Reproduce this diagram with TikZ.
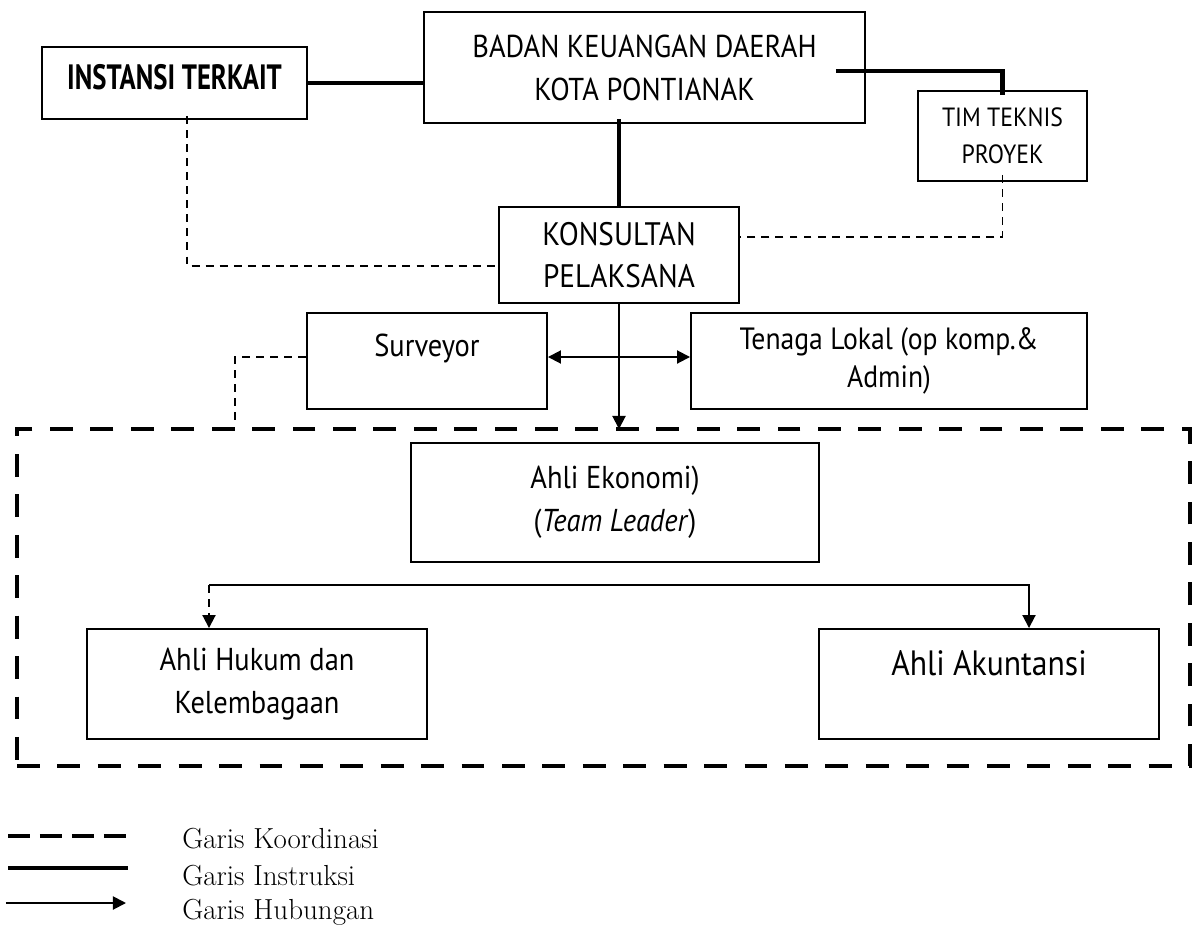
\documentclass[tikz,border=0pt]{standalone}
\usepackage{fontspec}
\usepackage{tikz}
\usetikzlibrary{arrows.meta,calc}
\newfontfamily\dinfont[FakeStretch=0.9]{PT Sans}
\newfontfamily\dinnarrow[FakeStretch=0.76]{PT Sans}

\begin{document}
\begin{tikzpicture}[>={Triangle[length=7.4pt,width=7.4pt]},
	kotak/.style={draw,line width=1.1pt,inner sep=0pt,align=center,font=\dinfont\fontsize{18}{24.5}\selectfont},
	instruksi/.style={line width=2.3pt},
	koordinasi/.style={line width=1.1pt,dash pattern=on 4.5pt off 3.5pt},
	hubungan/.style={line width=1.1pt},
	keterangan/.style={anchor=west,inner sep=0pt,font=\fontsize{16.5}{19}\selectfont}]
		\useasboundingbox (0,0) rectangle (23.98,-18.56);
		% kotak-kotak organisasi
		\node[kotak,minimum width=5.3cm,text height=.84cm,text depth=.6cm,font=\dinnarrow\bfseries\fontsize{20}{24.5}\selectfont] (instansi) at (3.49,-1.66) {INSTANSI TERKAIT};
		\node[kotak,minimum width=8.82cm,minimum height=2.22cm] (bkd) at (12.89,-1.35) {BADAN KEUANGAN DAERAH\\KOTA PONTIANAK};
		\node[kotak,minimum width=3.38cm,minimum height=1.8cm,font=\dinfont\fontsize{15}{21}\selectfont] (timteknis) at (20.05,-2.72) {TIM TEKNIS\\PROYEK};
		\node[kotak,minimum width=4.8cm,minimum height=1.92cm,font=\dinfont\fontsize{18.5}{24}\selectfont] (konsultan) at (12.38,-5.10) {KONSULTAN\\PELAKSANA};
		\node[kotak,minimum width=4.8cm,text height=.86cm,text depth=1.06cm] (surveyor) at (8.54,-7.22) {Surveyor};
		\node[kotak,minimum width=7.92cm,minimum height=1.92cm,font=\dinfont\fontsize{17.5}{21.5}\selectfont] (tenaga) at (17.78,-7.22) {Tenaga Lokal (op komp.\&\\Admin)};
		\node[draw,line width=2.8pt,dash pattern=on 13pt off 10pt,outer sep=0pt,minimum width=23.46cm,minimum height=6.74cm] (tenagaahli) at (12.07,-11.95) {};
		\node[kotak,minimum width=8.16cm,minimum height=2.38cm] (ekonomi) at (12.30,-10.05) {Ahli Ekonomi)\\(\textit{Team Leader})};
		\node[kotak,minimum width=6.8cm,minimum height=2.2cm] (hukum) at (5.14,-13.68) {Ahli Hukum dan\\Kelembagaan};
		\node[kotak,minimum width=6.8cm,text height=.92cm,text depth=1.28cm,font=\dinfont\fontsize{20}{26}\selectfont] (akuntansi) at (19.78,-13.68) {Ahli Akuntansi};
		% garis
		\draw[instruksi] (instansi.east) -- (instansi.east -| bkd.west);
		\draw[instruksi] ([xshift=-.6cm,yshift=-.07cm]bkd.east) -| ([yshift=-.1cm]timteknis.north);
		\draw[instruksi] (konsultan.north) -- ([yshift=.1cm]konsultan.north |- bkd.south);
		\draw[koordinasi] ([xshift=.25cm,yshift=.08cm]instansi.south) |- ([yshift=-.22cm]konsultan.west);
		\draw[koordinasi] ([yshift=.14cm]timteknis.south) |- ([yshift=.36cm]konsultan.east);
		\draw[hubungan,->] (konsultan.south) -- (konsultan.south |- tenagaahli.north);
		\draw[hubungan,<->] ([yshift=.08cm]surveyor.east) -- ([yshift=.08cm]tenaga.west);
		\draw[koordinasi] ([yshift=.08cm]surveyor.west) -| ([xshift=4.36cm,yshift=.08cm]tenagaahli.north west);
		\draw[hubungan,->] ([xshift=-.96cm,yshift=.86cm]hukum.north) coordinate (cabang) -| ([xshift=.8cm]akuntansi.north);
		\draw[koordinasi,->] (cabang) -- ([xshift=-.96cm]hukum.north);
		% keterangan
		\coordinate (k1) at (0.16,-16.72); \coordinate (k2) at (2.56,-16.72);
		\coordinate (i1) at (0.16,-17.36); \coordinate (i2) at (2.56,-17.36);
		\coordinate (h1) at (0.12,-18.06); \coordinate (h2) at (2.52,-18.06);
		\draw[line width=2.3pt,dash pattern=on 12.5pt off 5.7pt] (k1) -- (k2);
		\draw[instruksi] (i1) -- (i2);
		\draw[hubungan,->] (h1) -- (h2);
		\node[keterangan] (ketk) at (3.64,-16.78) {Garis Koordinasi};
		\node[keterangan] (keti) at (3.64,-17.52) {Garis Instruksi};
		\node[keterangan] (keth) at (3.64,-18.24) {Garis Hubungan};
	\end{tikzpicture}
\end{document}
